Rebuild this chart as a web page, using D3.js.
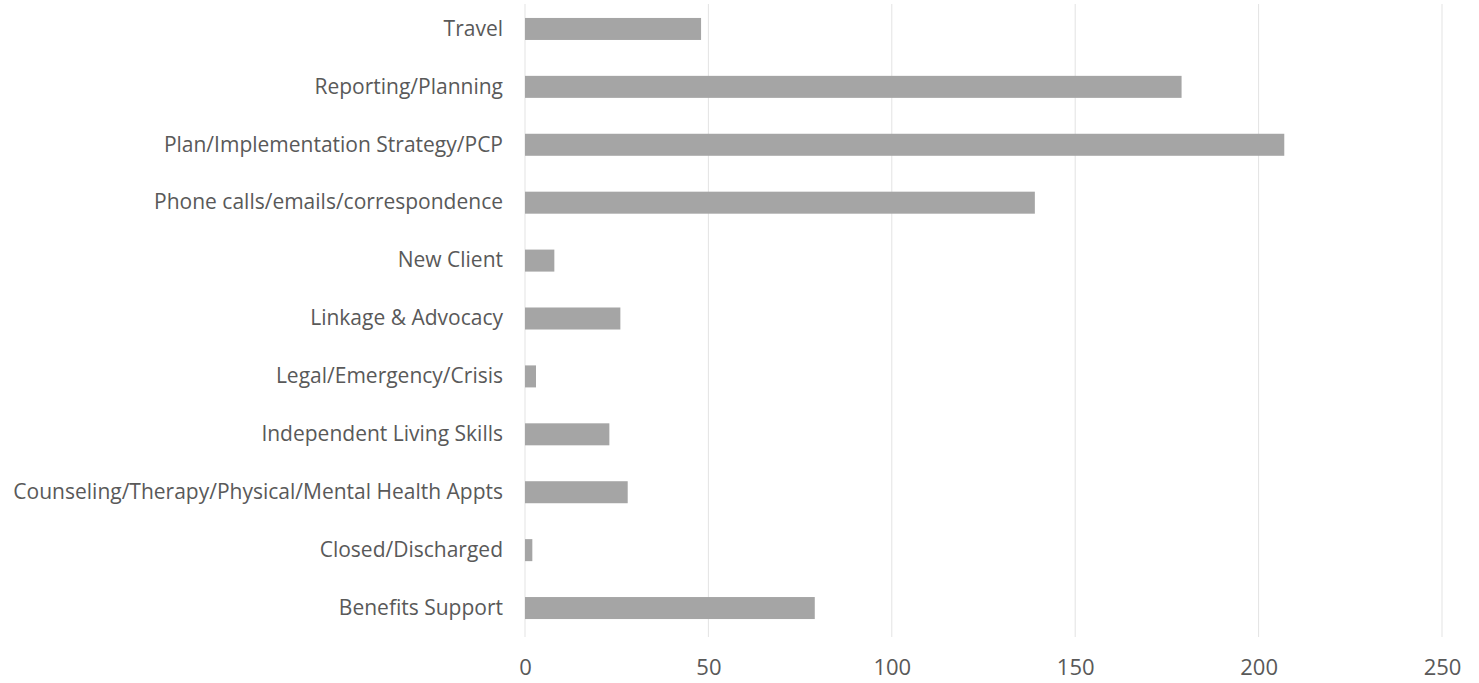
<!DOCTYPE html>
<html>
<head>
<meta charset="utf-8">
<script src="https://cdn.jsdelivr.net/npm/d3@7"></script>
<style>
  body { margin: 0; background: #fff; }
  text { font-family: "Open Sans", sans-serif; fill: #595959; }
</style>
</head>
<body>
<div id="chart"></div>
<script>
const categories = [
    'Travel',
    'Reporting/Planning',
    'Plan/Implementation Strategy/PCP',
    'Phone calls/emails/correspondence',
    'New Client',
    'Linkage & Advocacy',
    'Legal/Emergency/Crisis',
    'Independent Living Skills',
    'Counseling/Therapy/Physical/Mental Health Appts',
    'Closed/Discharged',
    'Benefits Support'
];
const values = [48, 179, 207, 139, 8, 26, 3, 23, 28, 2, 79];
const xTicks = [0, 50, 100, 150, 200, 250];

const width = 1479;
const height = 683;
const margin = {top: 0, right: 37, bottom: 46, left: 525};
const innerW = width - margin.left - margin.right;
const innerH = height - margin.top - margin.bottom;

const svg = d3.select('#chart').append('svg')
    .attr('width', width)
    .attr('height', height);

const g = svg.append('g')
    .attr('transform', 'translate(' + margin.left + ',' + margin.top + ')');

const x = d3.scaleLinear()
    .domain([0, 250])
    .range([0, innerW]);

const y = d3.scaleBand()
    .domain(categories)
    .range([0, innerH])
    .paddingInner(0.62)
    .paddingOuter(0.31);

// vertical gridlines
g.selectAll('.grid')
    .data(xTicks)
    .enter()
  .append('line')
    .attr('class', 'grid')
    .attr('x1', (d) => x(d))
    .attr('x2', (d) => x(d))
    .attr('y1', 4)
    .attr('y2', innerH)
    .style('stroke', '#e3e3e3')
    .style('stroke-width', 1);

g.selectAll('.bar')
    .data(values)
    .enter()
  .append('rect')
    .attr('class', 'bar')
    .attr('x', x(0))
    .attr('y', (d, i) => y(categories[i]))
    .attr('width', (d) => x(d) - x(0))
    .attr('height', y.bandwidth())
    .style('fill', '#a5a5a5');

const xAxis = g.append('g')
    .attr('transform', 'translate(0,' + innerH + ')')
    .call(d3.axisBottom(x).tickValues(xTicks).tickSize(0).tickPadding(22));
xAxis.select('.domain').remove();
xAxis.selectAll('text')
    .style('font-size', '22px')
    .style('fill', '#595959')
    .style('font-family', '"Open Sans", sans-serif');

const yAxis = g.append('g')
    .call(d3.axisLeft(y).tickSize(0).tickPadding(22));
yAxis.select('.domain').remove();
yAxis.selectAll('text')
    .style('font-size', '21px')
    .style('fill', '#595959')
    .style('font-family', '"Open Sans", sans-serif');
</script>
</body>
</html>
